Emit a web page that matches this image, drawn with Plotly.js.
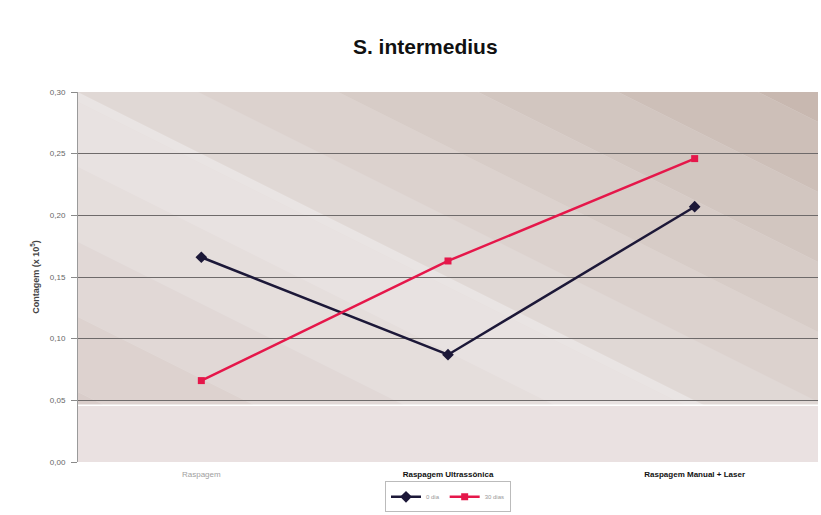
<!DOCTYPE html>
<html><head><meta charset="utf-8">
<script src="https://cdn.plot.ly/plotly-3.0.1.min.js"></script>
<style>html,body{margin:0;padding:0;background:#fff}#chart{width:821px;height:515px}</style>
</head><body><div id="chart"></div>
<script>
const categories = ["Raspagem", "Raspagem Ultrassônica", "Raspagem Manual + Laser"];
const seriesNames = ["0 dia", "30 dias"];
const seriesA = [0.166, 0.087, 0.207];
const seriesB = [0.066, 0.163, 0.246];
const yTicks = [0, 0.05, 0.10, 0.15, 0.20, 0.25, 0.30];

const W = 821, H = 515, mL = 78, mR = 3, mT = 92, mB = 53;
const pw = W - mL - mR, ph = H - mT - mB;
const xr = [-0.5, 2.5], yr = [0, 0.3];
function toData(px, py) {
  return [xr[0] + px / pw * (xr[1] - xr[0]), yr[1] - py / ph * (yr[1] - yr[0])];
}
// diagonal background bands (decoration)
const bandStops = [
  [-900, '#d9cdca'], [-600, '#ddd2cf'], [-450, '#e1d8d6'], [-300, '#e5dedc'],
  [-150, '#e8e2e1'], [-20, '#e9e4e3'], [0, '#e0d8d5'], [120, '#dcd2ce'],
  [260, '#d7ccc7'], [400, '#d2c6c0'], [540, '#cdbfb8'], [680, '#c8b8b0'], [1200, '#c8b8b0']
];
const shapes = [];
for (let i = 0; i < bandStops.length - 1; i++) {
  const t0 = bandStops[i][0], t1 = bandStops[i + 1][0];
  const pts = [[t0 - 100, -50], [t0 + 800, 400], [t1 + 800, 400], [t1 - 100, -50]].map(p => toData(p[0], p[1]));
  const path = 'M' + pts.map(p => p[0] + ',' + p[1]).join(' L') + ' Z';
  shapes.push({type: 'path', xref: 'x', yref: 'y', path: path, fillcolor: bandStops[i][1], line: {width: 0}, layer: 'below'});
}
shapes.push({type: 'rect', xref: 'x', yref: 'y', x0: -0.5, x1: 2.5, y0: 0, y1: 0.046, fillcolor: '#eae1e1', line: {width: 0}, layer: 'below'});
shapes.push({type: 'line', xref: 'x', yref: 'y', x0: -0.5, x1: 2.5, y0: 0.046, y1: 0.046, line: {color: '#ffffff', width: 1.5}, layer: 'below'});

const ticktext = categories.map((c, i) => i === 0 ? '<span style="color:#a0a0a0">' + c + '</span>' : '<b>' + c + '</b>');

const data = [
  {x: [0, 1, 2], y: seriesA, name: seriesNames[0], type: 'scatter', mode: 'lines+markers',
   line: {color: '#1c1838', width: 2.5}, marker: {symbol: 'diamond', size: 9, color: '#1c1838'}},
  {x: [0, 1, 2], y: seriesB, name: seriesNames[1], type: 'scatter', mode: 'lines+markers',
   line: {color: '#e5174a', width: 2.5}, marker: {symbol: 'square', size: 7, color: '#e5174a'}}
];
const layout = {
  width: W, height: H,
  margin: {l: mL, r: mR, t: mT, b: mB, autoexpand: false},
  paper_bgcolor: '#ffffff', plot_bgcolor: '#e4dcda',
  separators: ',.',
  font: {family: 'Liberation Sans, Arial, sans-serif'},
  title: {text: '<b>S. intermedius</b>', x: 0.518, xanchor: 'center', y: 0.91, yanchor: 'middle',
          font: {size: 21, color: '#111'}},
  xaxis: {range: xr, tickvals: [0, 1, 2], ticktext: ticktext, showgrid: false, zeroline: false,
          showline: false, ticks: '', tickfont: {size: 8, color: '#111', family: 'Liberation Sans, Arial'},
          ticklabelstandoff: 6, fixedrange: true},
  yaxis: {range: yr, tickvals: yTicks, tickformat: '.2f', showgrid: true, gridcolor: '#6e6a6a', gridwidth: 1,
          zeroline: false, showline: true, linecolor: '#9a9a9a', linewidth: 1, ticks: 'outside', ticklen: 6,
          tickcolor: '#8a8a8a', tickfont: {size: 8, color: '#666'}, ticklabelstandoff: 4,
          title: {text: '<b>Contagem (x 10<sup>5</sup>)</b>', font: {size: 9, color: '#444'}, standoff: 8}},
  shapes: shapes,
  showlegend: true,
  legend: {orientation: 'h', x: 0.5, xanchor: 'center', y: -0.136, yanchor: 'bottom',
           bordercolor: '#bbbbbb', borderwidth: 1, bgcolor: '#ffffff',
           font: {size: 6, color: '#999'}, itemwidth: 30, tracegroupgap: 0}
};
Plotly.newPlot('chart', data, layout, {displayModeBar: false, staticPlot: true});
</script></body></html>
